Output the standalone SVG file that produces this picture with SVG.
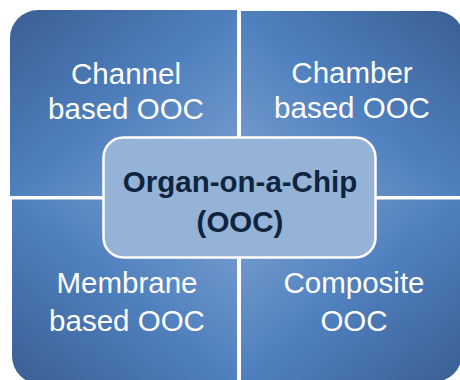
<svg xmlns="http://www.w3.org/2000/svg" width="460" height="380" viewBox="0 0 460 380">
  <defs>
    <linearGradient id="gTL" x1="0" y1="0" x2="1" y2="1">
      <stop offset="0" stop-color="#3a5f94"/>
      <stop offset="0.5" stop-color="#4f80be"/>
      <stop offset="1" stop-color="#7da2d2"/>
    </linearGradient>
    <linearGradient id="gTR" x1="1" y1="0" x2="0" y2="1">
      <stop offset="0" stop-color="#3a5f94"/>
      <stop offset="0.5" stop-color="#4f80be"/>
      <stop offset="1" stop-color="#7da2d2"/>
    </linearGradient>
    <linearGradient id="gBL" x1="0" y1="1" x2="1" y2="0">
      <stop offset="0" stop-color="#3a5f94"/>
      <stop offset="0.5" stop-color="#4f80be"/>
      <stop offset="1" stop-color="#7da2d2"/>
    </linearGradient>
    <linearGradient id="gBR" x1="1" y1="1" x2="0" y2="0">
      <stop offset="0" stop-color="#3a5f94"/>
      <stop offset="0.5" stop-color="#4f80be"/>
      <stop offset="1" stop-color="#7da2d2"/>
    </linearGradient>
  </defs>
  <style>
    .q { font-family: "Liberation Sans", Arial, sans-serif; font-size: 29.5px; fill: #ffffff; text-anchor: middle; }
    .c { font-family: "Liberation Sans", Arial, sans-serif; font-size: 29.5px; font-weight: bold; fill: #0f243e; text-anchor: middle; }
    .center { fill: #95b3d7; stroke: #ffffff; stroke-width: 2.5; }
  </style>
  <rect width="460" height="380" fill="#ffffff"/>
  <g id="connectors"/>
  <g id="channel">
    <path d="M10,38 A28,28 0 0 1 38,10 L237,10 L237,196 L10,196 Z" fill="url(#gTL)"/>
    <text class="q" x="126" y="84">Channel</text>
    <text class="q" x="126" y="119">based OOC</text>
  </g>
  <g id="chamber">
    <path d="M241,11 L436,11 A28,28 0 0 1 464,39 L464,196 L241,196 Z" fill="url(#gTR)"/>
    <text class="q" x="352" y="83">Chamber</text>
    <text class="q" x="352" y="118">based OOC</text>
  </g>
  <g id="membrane">
    <path d="M12,199.5 L237,199.5 L237,384 L40,384 A28,28 0 0 1 12,356 Z" fill="url(#gBL)"/>
    <text class="q" x="127" y="293">Membrane</text>
    <text class="q" x="127" y="331">based OOC</text>
  </g>
  <g id="composite">
    <path d="M241,199.5 L462,199.5 L462,354 A28,28 0 0 1 434,382 L241,382 Z" fill="url(#gBR)"/>
    <text class="q" x="354" y="293">Composite</text>
    <text class="q" x="354" y="331">OOC</text>
  </g>
  <g id="ooc">
    <rect class="center" x="103.5" y="137.5" width="272" height="120" rx="20" ry="20"/>
    <text class="c" x="240" y="192">Organ-on-a-Chip</text>
    <text class="c" x="240" y="232">(OOC)</text>
  </g>
</svg>
